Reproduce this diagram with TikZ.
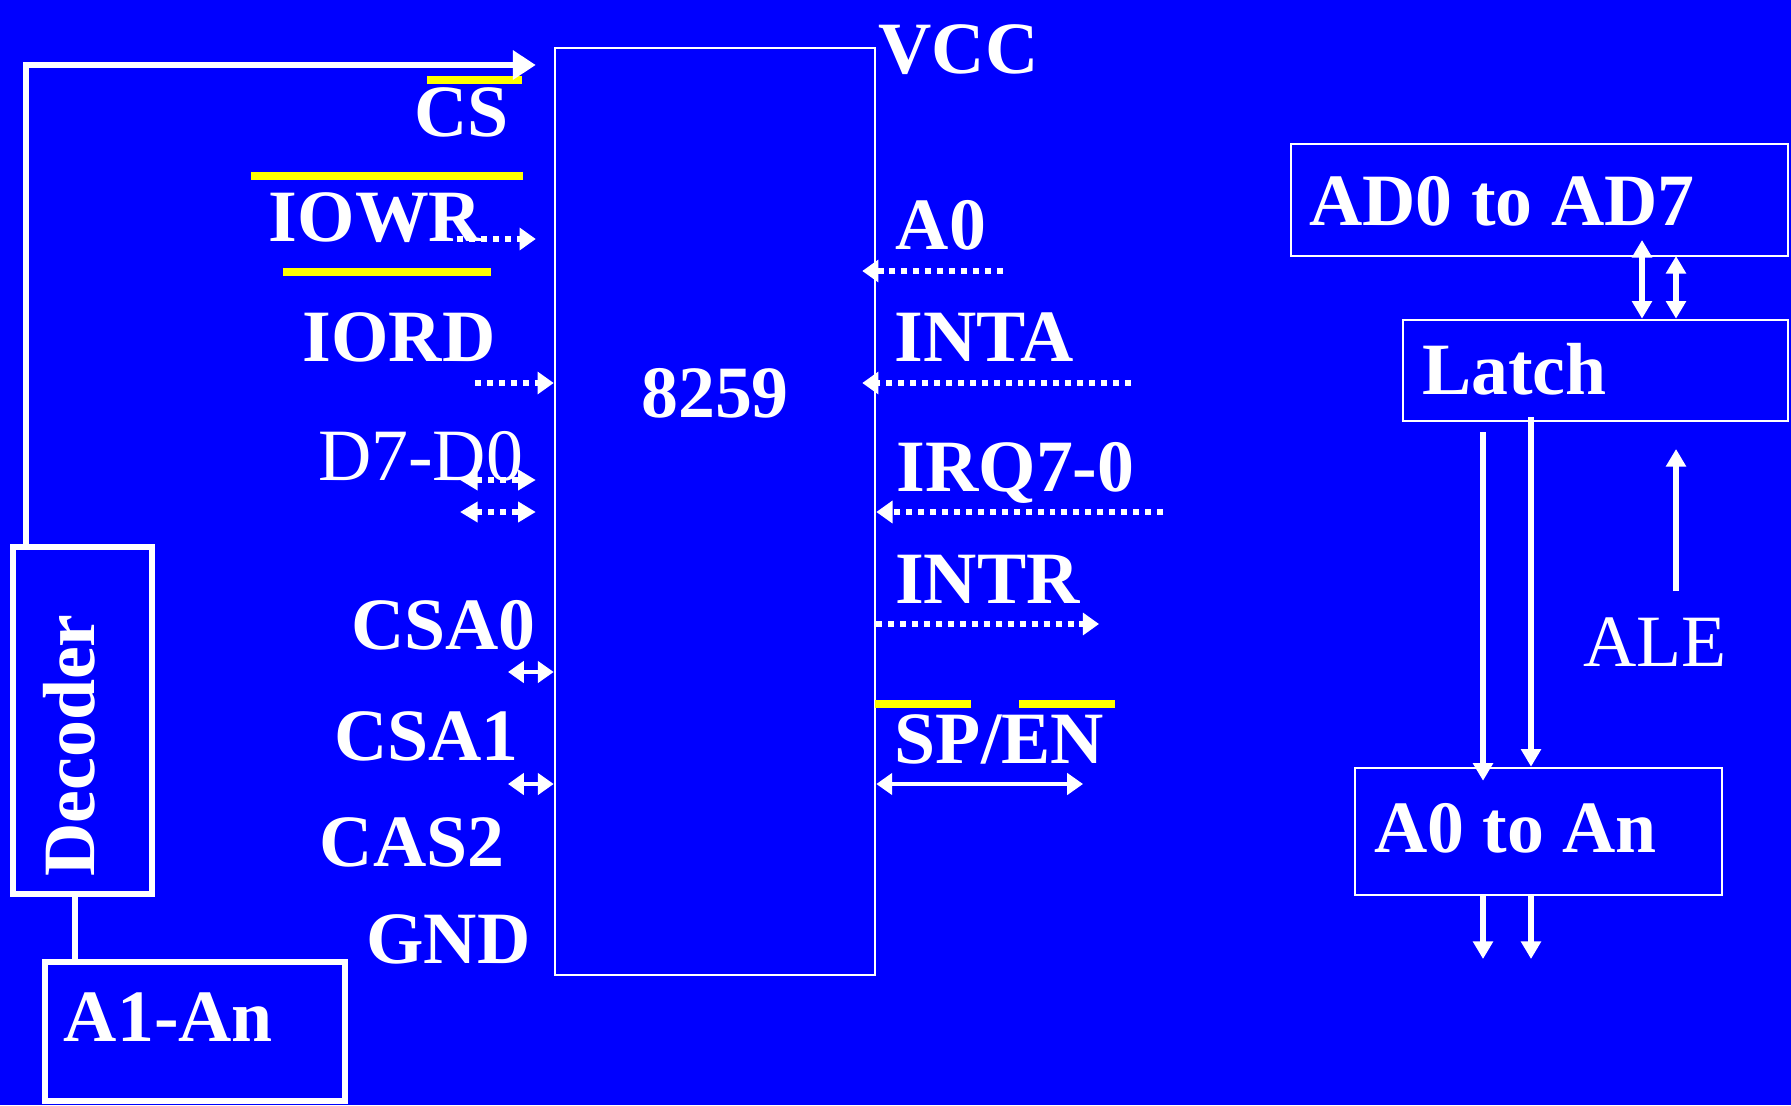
\documentclass[tikz,border=0pt]{standalone}
\usepackage{fontspec}
\setmainfont{Liberation Serif}
\usetikzlibrary{
  arrows.meta,
  calc,
  positioning
}
\definecolor{SlideBlue}{HTML}{0000FF}
\definecolor{SlideYellow}{HTML}{FFFF00}
\newcommand{\pinfont}{\fontsize{21}{25}\selectfont\bfseries}
\newcommand{\pinlightfont}{\fontsize{21}{25}\selectfont}
\tikzset{
  every node/.style = {text=white, font=\pinfont, inner sep=0pt},
  chip box/.style = {
    draw=white,
    line width=0.75pt,
    minimum width=3.20cm,
    minimum height=9.27cm
  },
  block/.style = {draw=white, line width=0.75pt},
  block thick/.style = {draw=white, line width=1.6pt},
  pin label/.style = {anchor=base},
  pin light/.style = {pin label, font=\pinlightfont},
  overbar/.style = {draw=SlideYellow, line width=2.4pt},
  wire/.style = {draw=white, line width=1.7pt},
  sig/.style = {draw=white, line width=1.7pt, dash pattern=on 1.7pt off 1.7pt},
  sig in/.style = {sig, -{Triangle[length=4.6pt,width=6.2pt]}},
  sig both/.style = {sig, {Triangle[length=5pt,width=5.6pt]}-{Triangle[length=5pt,width=5.6pt]}},
  link both/.style = {
    draw=white,
    line width=1.4pt,
    {Triangle[length=4.5pt,width=6pt]}-{Triangle[length=4.5pt,width=6pt]}
  },
  bus/.style = {draw=white, line width=1.7pt, -{Triangle[length=5pt,width=5.5pt]}},
  bus both/.style = {bus, {Triangle[length=5pt,width=5.5pt]}-{Triangle[length=5pt,width=5.5pt]}},
}

\begin{document}
\begin{tikzpicture}
  \fill[SlideBlue] (0,0) rectangle (17.91,11.05);
  \useasboundingbox (0,0) rectangle (17.91,11.05);

  \node[chip box] (chip) at (7.15,5.935) {};
  \node[pin label] (chip name) at (7.15,6.88) {8259};

  \node[block thick, minimum width=1.39cm, minimum height=3.47cm] (decoder) at (0.825,3.845) {};
  \node[pin label, rotate=90] (decoder name) at (0.94,3.595) {Decoder};
  \node[block thick, minimum width=3.00cm, minimum height=1.39cm] (addr) at (1.95,0.735) {};
  \node[pin label] (addr name) at (1.685,0.64) {A1-An};

  \node[pin label] (cs) at (4.615,9.68) {CS};
  \node[pin label] (iowr) at (3.755,8.63) {IOWR};
  \node[pin label] (iord) at (3.99,7.43) {IORD};
  \node[pin light] (data) at (4.205,6.25) {D7-D0};
  \node[pin label] (csa0) at (4.435,4.56) {CSA0};
  \node[pin label] (csa1) at (4.265,3.45) {CSA1};
  \node[pin label] (cas2) at (4.12,2.39) {CAS2};
  \node[pin label] (gnd) at (4.485,1.42) {GND};

  \node[pin label] (vcc) at (9.585,10.31) {VCC};
  \node[pin label] (a0) at (9.41,8.55) {A0};
  \node[pin label] (inta) at (9.84,7.43) {INTA};
  \node[pin label] (irq) at (10.155,6.14) {IRQ7-0};
  \node[pin label] (intr) at (9.875,5.02) {INTR};
  \node[pin label] (spen) at (9.995,3.42) {SP/EN};

  \draw[overbar] (4.27,10.25) -- (5.22,10.25);
  \draw[overbar] (2.51,9.29) -- (5.23,9.29);
  \draw[overbar] (2.83,8.33) -- (4.91,8.33);
  \draw[overbar] (8.75,4.01) -- (9.71,4.01);
  \draw[overbar] (10.19,4.01) -- (11.15,4.01);

  \coordinate (cs corner) at (0.26,10.40);
  \draw[wire, -{Triangle[length=6.5pt,width=8pt]}, shorten >=5.1pt]
    (decoder.north -| cs corner) |- (chip.west |- cs corner);
  \coordinate (dec link) at (0.75,0);
  \draw[wire] (decoder.south -| dec link) -- (addr.north -| dec link);

  \coordinate (iowr pin) at (4.57,8.66);
  \coordinate (iord pin) at (4.75,7.22);
  \coordinate (data pin a) at (4.60,6.25);
  \coordinate (data pin b) at (4.60,5.93);
  \coordinate (csa0 pin) at (5.08,4.33);
  \coordinate (csa1 pin) at (5.08,3.21);
  \draw[sig in, shorten >=5.1pt] (iowr pin) -- (iowr pin -| chip.west);
  \draw[sig in] (iord pin) -- (iord pin -| chip.west);
  \draw[sig both, shorten >=5.1pt] (data pin a) -- (data pin a -| chip.west);
  \draw[sig both, shorten >=5.1pt] (data pin b) -- (data pin b -| chip.west);
  \draw[link both] (csa0 pin) -- (csa0 pin -| chip.west);
  \draw[link both] (csa1 pin) -- (csa1 pin -| chip.west);

  \coordinate (a0 pin) at (10.03,8.34);
  \coordinate (inta pin) at (11.31,7.22);
  \coordinate (irq pin) at (11.63,5.93);
  \coordinate (intr pin) at (10.99,4.81);
  \coordinate (spen pin) at (10.83,3.21);
  \draw[sig in, shorten >=-4pt] (a0 pin) -- (a0 pin -| chip.east);
  \draw[sig in, shorten >=-4pt] (inta pin) -- (inta pin -| chip.east);
  \draw[sig in] (irq pin) -- (irq pin -| chip.east);
  \draw[sig in] (intr pin -| chip.east) -- (intr pin);
  \draw[link both] (spen pin -| chip.east) -- (spen pin);

  \node[block, minimum width=4.97cm, minimum height=1.12cm] (adbox) at (15.395,9.05) {};
  \node[pin label] (adbox name) at (15.02,8.79) {AD0 to AD7};
  \node[block, minimum width=3.85cm, minimum height=1.01cm] (latch) at (15.955,7.345) {};
  \node[pin label] (latch name) at (15.145,7.11) {Latch};
  \node[block, minimum width=3.67cm, minimum height=1.27cm] (aonbox) at (15.385,2.735) {};
  \node[pin label] (aonbox name) at (15.155,2.53) {A0 to An};

  \coordinate (ad link a) at (16.42,8.65);
  \coordinate (ad link b) at (16.76,8.49);
  \draw[bus both] (ad link a) -- (ad link a |- latch.north);
  \draw[bus both] (ad link b) -- (ad link b |- latch.north);

  \coordinate (latch out a) at (14.83,6.73);
  \coordinate (latch out b) at (15.31,6.88);
  \draw[bus, shorten >=-4pt] (latch out a) -- (latch out a |- aonbox.north);
  \draw[bus] (latch out b) -- (latch out b |- aonbox.north);
  \coordinate (bus end a) at (14.83,1.46);
  \coordinate (bus end b) at (15.31,1.46);
  \draw[bus] (aonbox.south -| bus end a) -- (bus end a);
  \draw[bus] (aonbox.south -| bus end b) -- (bus end b);

  \coordinate (ale foot) at (16.76,5.14);
  \coordinate (ale tip) at (16.76,6.56);
  \draw[bus] (ale foot) -- (ale tip);
  \node[pin light] (ale) at (16.55,4.39) {ALE};
\end{tikzpicture}
\end{document}
